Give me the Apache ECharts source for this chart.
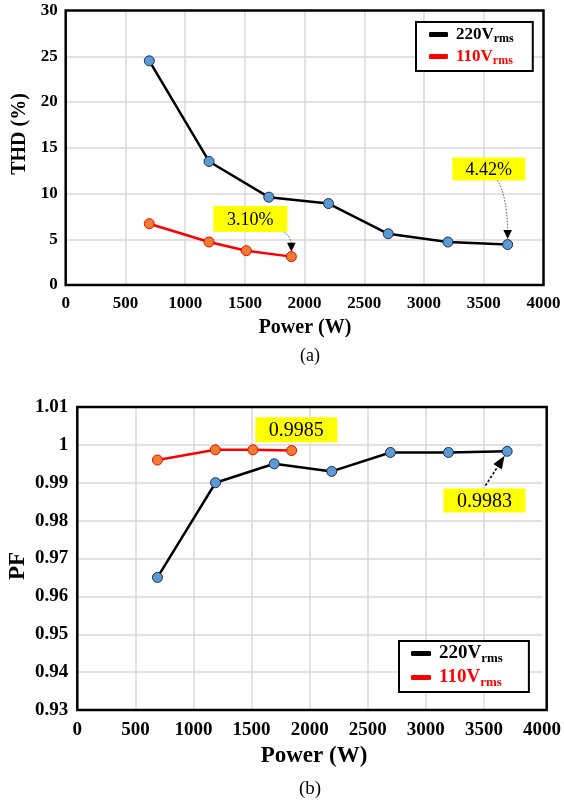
<!DOCTYPE html>
<html><head><meta charset="utf-8">
<script src="https://cdn.jsdelivr.net/npm/echarts@6/dist/echarts.min.js"></script>
<style>html,body{margin:0;padding:0;background:#fff}#c{width:564px;height:801px}</style>
</head><body><div id="c"></div>
<script>
const FONT = '"Liberation Serif","Times New Roman",serif';

// ---- Data (a) THD ----
const thdPower220 = [700, 1200, 1700, 2200, 2700, 3200, 3700];
const thd220      = [24.5, 13.5, 9.6, 8.9, 5.6, 4.7, 4.42];
const thdPower110 = [700, 1200, 1512, 1889];
const thd110      = [6.7, 4.7, 3.75, 3.1];

// ---- Data (b) PF ----
const pfPower220 = [690, 1190, 1695, 2190, 2695, 3195, 3700];
const pf220      = [0.965, 0.990, 0.995, 0.993, 0.998, 0.998, 0.9983];
const pfPower110 = [690, 1188, 1512, 1845];
const pf110      = [0.996, 0.9987, 0.9987, 0.9985];

const seriesNames = ['220V', '110V'];
const thdLabels = ['4.42%', '3.10%'];
const pfLabels = ['0.9983', '0.9985'];

const zip = (xs, ys) => xs.map((x, i) => [x, ys[i]]);

const chart = echarts.init(document.getElementById('c'), null, {renderer: 'canvas'});

const GRIDS = [
  {left: 65.7, top: 10.5, width: 477.8, height: 274.5},
  {left: 77.3, top: 407, width: 469.4, height: 303}
];

function splitCfg() {
  return {show: true, showMinLine: false, showMaxLine: false, lineStyle: {color: '#d9d9d9', width: 1.5}};
}

function xAxisCfg(gi, fs, margin) {
  return {
    gridIndex: gi, type: 'value', min: 0, max: 4000, interval: 500,
    axisLine: {show: false}, axisTick: {show: false},
    axisLabel: {fontFamily: FONT, fontWeight: 'bold', fontSize: fs, color: '#000', margin: margin,
      formatter: v => String(v)},
    splitLine: splitCfg()
  };
}

function legendCfg(left, top, fs, sfs, pad, iw, gap) {
  return {
    orient: 'vertical', left: left, top: top,
    backgroundColor: '#fff',
    borderColor: '#000', borderWidth: 2, borderRadius: 0,
    padding: pad, itemGap: gap,
    itemWidth: iw, itemHeight: 5,
    data: [
      {name: '220V', icon: 'roundRect', itemStyle: {color: '#000', borderWidth: 0}},
      {name: '110V', icon: 'roundRect', itemStyle: {color: '#ff0000', borderWidth: 0}}
    ],
    formatter: n => n === '220V' ? '{a|220V}{s|rms}' : '{b|110V}{t|rms}',
    textStyle: {
      rich: {
        a: {fontFamily: FONT, fontWeight: 'bold', fontSize: fs, color: '#000', lineHeight: fs + 4, padding: [0, 0, 0, 3]},
        s: {fontFamily: FONT, fontWeight: 'bold', fontSize: sfs, color: '#000', lineHeight: sfs, verticalAlign: 'bottom'},
        b: {fontFamily: FONT, fontWeight: 'bold', fontSize: fs, color: '#ff0000', lineHeight: fs + 4, padding: [0, 0, 0, 3]},
        t: {fontFamily: FONT, fontWeight: 'bold', fontSize: sfs, color: '#ff0000', lineHeight: sfs, verticalAlign: 'bottom'}
      }
    }
  };
}

function lineSeries(name, gi, data, lineColor, fill, border) {
  return {
    name: name, type: 'line', xAxisIndex: gi, yAxisIndex: gi,
    data: data, symbol: 'circle', symbolSize: 10,
    lineStyle: {color: lineColor, width: 2.5},
    itemStyle: {color: fill, borderColor: border, borderWidth: 1},
    emphasis: {disabled: true}, animation: false, z: 3
  };
}

const option = {
  animation: false,
  backgroundColor: '#fff',
  grid: GRIDS.map(gr => Object.assign({show: false, containLabel: false}, gr)),
  xAxis: [xAxisCfg(0, 17, 10), xAxisCfg(1, 19, 11)],
  yAxis: [
    {gridIndex: 0, type: 'value', min: 0, max: 30, interval: 5,
     axisLine: {show: false}, axisTick: {show: false},
     axisLabel: {fontFamily: FONT, fontWeight: 'bold', fontSize: 17, color: '#000', margin: 8},
     splitLine: splitCfg()},
    {gridIndex: 1, type: 'value', min: 0.93, max: 1.01, interval: 0.01,
     axisLine: {show: false}, axisTick: {show: false},
     axisLabel: {fontFamily: FONT, fontWeight: 'bold', fontSize: 19, color: '#000', margin: 9,
       formatter: v => String(parseFloat(v.toFixed(2)))},
     splitLine: splitCfg()}
  ],
  legend: [
    legendCfg(416, 22, 17, 12, [4, 19, 4, 13], 19, 3),
    legendCfg(399, 641, 19, 13, [3, 26, 3, 12], 20, 3)
  ],
  series: [
    lineSeries('220V', 0, zip(thdPower220, thd220), '#000', '#5b9bd5', '#1f2d4a'),
    lineSeries('110V', 0, zip(thdPower110, thd110), '#ff0000', '#ed7d31', '#ff0000'),
    lineSeries('220V', 1, zip(pfPower220, pf220), '#000', '#5b9bd5', '#1f2d4a'),
    lineSeries('110V', 1, zip(pfPower110, pf110), '#ff0000', '#ed7d31', '#ff0000')
  ]
};
chart.setOption(option);

// ---- Annotations placed relative to the data points ----
function px(gi, pt) { return chart.convertToPixel({xAxisIndex: gi, yAxisIndex: gi}, pt); }

function box(cx, cy, w, h, text, fs) {
  return [
    {type: 'rect', shape: {x: cx - w / 2, y: cy - h / 2, width: w, height: h}, style: {fill: '#ffff00'}, z: 10},
    {type: 'text', x: cx, y: cy + 1, style: {text: text, font: fs + 'px ' + FONT, fill: '#000', align: 'center', verticalAlign: 'middle'}, z: 11}
  ];
}
function head(tip, from, len, hw) {
  const dx = tip[0] - from[0], dy = tip[1] - from[1];
  const L = Math.hypot(dx, dy), ux = dx / L, uy = dy / L;
  const bx = tip[0] - ux * len, by = tip[1] - uy * len;
  return {type: 'polygon', shape: {points: [tip, [bx - uy * hw, by + ux * hw], [bx + uy * hw, by - ux * hw]]}, style: {fill: '#000'}, z: 12};
}

const g = [];
// plot frames
GRIDS.forEach(gr => g.push({type: 'rect', shape: {x: gr.left, y: gr.top, width: gr.width, height: gr.height},
  style: {fill: null, stroke: '#000', lineWidth: 2.5}, z: 2}));
// (a) 3.10%
{
  const P = px(0, [thdPower110[3], thd110[3]]);
  g.push(...box(P[0] - 41, P[1] - 37.7, 74, 26, thdLabels[1], 18));
  const s = [P[0] - 7, P[1] - 24.5], e = [P[0], P[1] - 13];
  g.push({type: 'bezierCurve', shape: {x1: s[0], y1: s[1], x2: e[0], y2: e[1], cpx1: P[0] - 1, cpy1: P[1] - 20}, style: {stroke: '#444', lineWidth: 1, lineDash: [1.5, 1.5], fill: null}, z: 12});
  g.push(head([P[0], P[1] - 5], [P[0], P[1] - 20], 9, 4.3));
}
// (a) 4.42%
{
  const P = px(0, [thdPower220[6], thd220[6]]);
  g.push(...box(P[0] - 18.8, P[1] - 75.5, 73, 23, thdLabels[0], 18));
  const s = [P[0] - 10.3, P[1] - 64], e = [P[0], P[1] - 14.5];
  g.push({type: 'bezierCurve', shape: {x1: s[0], y1: s[1], x2: e[0], y2: e[1], cpx1: P[0] - 1, cpy1: P[1] - 50}, style: {stroke: '#444', lineWidth: 1, lineDash: [1.5, 1.5], fill: null}, z: 12});
  g.push(head([P[0], P[1] - 5.5], [P[0], P[1] - 30], 9, 4.3));
}
// (b) 0.9985
{
  const P = px(1, [pfPower110[3], pf110[3]]);
  g.push(...box(P[0] + 4.7, P[1] - 20.8, 82, 25, pfLabels[1], 20));
}
// (b) 0.9983
{
  const P = px(1, [pfPower220[6], pf220[6]]);
  g.push(...box(P[0] - 22.7, P[1] + 49.3, 82, 24, pfLabels[0], 20));
  const s = [P[0] - 21.7, P[1] + 34.3], tip = [P[0] - 2.5, P[1] + 4.5];
  const L = Math.hypot(tip[0] - s[0], tip[1] - s[1]);
  const e = [tip[0] - (tip[0] - s[0]) / L * 11, tip[1] - (tip[1] - s[1]) / L * 11];
  g.push({type: 'line', shape: {x1: s[0], y1: s[1], x2: e[0], y2: e[1]}, style: {stroke: '#000', lineWidth: 1.6, lineDash: [2.5, 2]}, z: 12});
  g.push(head(tip, s, 13, 5));
}
// Axis titles and captions
g.push({type: 'text', x: 20, y: 134, rotation: Math.PI / 2, style: {text: 'THD (%)', font: 'bold 20px ' + FONT, fill: '#000', align: 'center', verticalAlign: 'middle'}});
g.push({type: 'text', x: 305, y: 328, style: {text: 'Power (W)', font: 'bold 20px ' + FONT, fill: '#000', align: 'center', verticalAlign: 'middle'}});
g.push({type: 'text', x: 310, y: 356, style: {text: '(a)', font: '18px ' + FONT, fill: '#000', align: 'center', verticalAlign: 'middle'}});
g.push({type: 'text', x: 18, y: 566, rotation: Math.PI / 2, style: {text: 'PF', font: 'bold 23px ' + FONT, fill: '#000', align: 'center', verticalAlign: 'middle'}});
g.push({type: 'text', x: 314, y: 756, style: {text: 'Power (W)', font: 'bold 23px ' + FONT, fill: '#000', align: 'center', verticalAlign: 'middle'}});
g.push({type: 'text', x: 310, y: 789, style: {text: '(b)', font: '19px ' + FONT, fill: '#000', align: 'center', verticalAlign: 'middle'}});

chart.setOption({graphic: g});
</script>
</body></html>
